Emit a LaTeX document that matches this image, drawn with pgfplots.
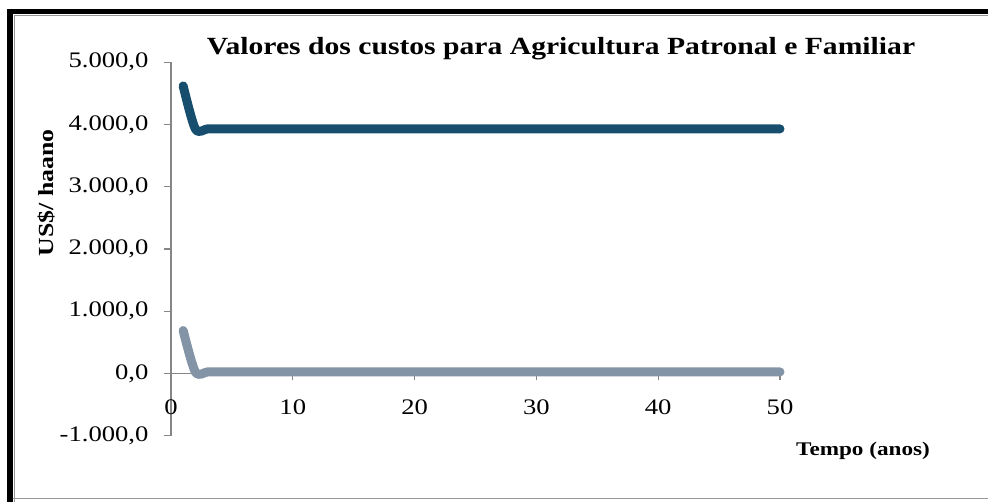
\documentclass[border=0pt]{standalone}
\usepackage{pgfplots}
\pgfplotsset{compat=1.18}
\usepackage{fontspec}
\setmainfont[FakeStretch=1.2]{Liberation Serif}
\definecolor{serA}{RGB}{23,78,110}
\definecolor{serB}{RGB}{130,148,165}
\definecolor{axgray}{RGB}{134,134,134}
\definecolor{framegray}{RGB}{150,150,150}
\begin{document}
\begin{tikzpicture}[x=1pt,y=1pt]
\path[use as bounding box] (0,0) rectangle (988,502);
% frame
\fill[black] (7,487.5) rectangle (988,492.7);
\fill[black] (7,0) rectangle (12.9,492.7);
\draw[framegray, line width=1.3pt] (14.6,0) -- (14.6,486.5) -- (988,486.5);
\draw[framegray, line width=1.6pt] (12.7,3.5) -- (988,3.5);
\begin{axis}[
  at={(171pt,66.3pt)}, anchor=south west,
  scale only axis, width=609pt, height=373.4pt,
  xmin=0, xmax=50, ymin=-1000, ymax=5000,
  axis x line=middle, axis y line=left,
  hide obscured x ticks=false,
  axis line style={-, draw=axgray, line width=1.2pt},
  xtick={0,10,20,30,40,50},
  ytick={-1000,0,1000,2000,3000,4000,5000},
  tick align=outside,
  major tick length=7pt,
  tick style={draw=axgray, line width=1.2pt},
  /pgf/number format/assume math mode=true,
  tick label style={font=\fontsize{22.2}{24}\selectfont},
  yticklabel style={/pgf/number format/.cd, fixed, fixed zerofill, precision=1,
     set decimal separator={,}, set thousands separator={.}},
  xticklabel style={/pgf/number format/.cd, fixed, precision=0},
  yticklabel shift=12pt,
  xticklabel shift=16pt,
  clip=false,
]
\addplot[serA, line width=9pt, smooth, line cap=round, line join=round] coordinates {
(1,4620) (2,3930) (3,3930) (4,3930) (5,3930) (6,3930) (7,3930) (8,3930) (9,3930) (10,3930)
(11,3930) (12,3930) (13,3930) (14,3930) (15,3930) (16,3930) (17,3930) (18,3930) (19,3930) (20,3930)
(21,3930) (22,3930) (23,3930) (24,3930) (25,3930) (26,3930) (27,3930) (28,3930) (29,3930) (30,3930)
(31,3930) (32,3930) (33,3930) (34,3930) (35,3930) (36,3930) (37,3930) (38,3930) (39,3930) (40,3930)
(41,3930) (42,3930) (43,3930) (44,3930) (45,3930) (46,3930) (47,3930) (48,3930) (49,3930) (50,3930)
};
\addplot[serB, line width=9pt, smooth, line cap=round, line join=round] coordinates {
(1,690) (2,25) (3,25) (4,25) (5,25) (6,25) (7,25) (8,25) (9,25) (10,25)
(11,25) (12,25) (13,25) (14,25) (15,25) (16,25) (17,25) (18,25) (19,25) (20,25)
(21,25) (22,25) (23,25) (24,25) (25,25) (26,25) (27,25) (28,25) (29,25) (30,25)
(31,25) (32,25) (33,25) (34,25) (35,25) (36,25) (37,25) (38,25) (39,25) (40,25)
(41,25) (42,25) (43,25) (44,25) (45,25) (46,25) (47,25) (48,25) (49,25) (50,25)
};
\end{axis}
\node[anchor=base, font=\bfseries\fontsize{24.7}{27}\selectfont] at (561,447) {Valores dos custos para Agricultura Patronal e Familiar};
\node[rotate=90, font=\bfseries\fontsize{21.5}{24}\selectfont] at (47,309) {US\$/ haano};
\node[anchor=base, font=\bfseries\fontsize{19.3}{22}\selectfont] at (863,46) {Tempo (anos)};
\end{tikzpicture}
\end{document}
